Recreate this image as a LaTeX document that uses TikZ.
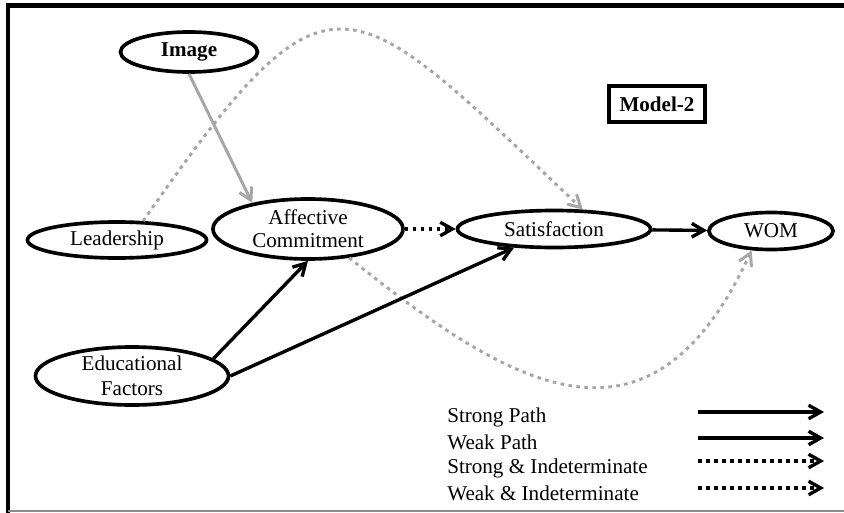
\documentclass[tikz,border=0pt]{standalone}
\usepackage{fontspec}
\setmainfont{Liberation Serif}
\usetikzlibrary{shapes.geometric,arrows.meta}

\tikzset{
  construct/.style={draw, ellipse, line width=2.6pt, inner sep=0pt, align=center,
    font=\fontsize{15}{17}\selectfont},
  path strong/.style={line width=2.4pt, -{Straight Barb[length=3mm,width=3.4mm,line width=2.4pt]}},
  path weak/.style={line width=2.1pt, black!35, -{Straight Barb[length=3mm,width=3.4mm,line width=2.1pt]}},
  dotline/.style={dash pattern=on 0.9mm off 1.1mm},
  legendtext/.style={anchor=west, inner sep=0pt, font=\fontsize{15}{17}\selectfont}
}

\begin{document}
\begin{tikzpicture}[x=0.025cm, y=-0.025cm]
  \useasboundingbox (0,0) rectangle (844,513);
  \draw [line width=3pt] (6,5.5) -- (844,5.5);
  \draw [line width=2.8pt] (8,4) -- (8,513);
  \draw [black!45, line width=1pt] (8,511) -- (844,511);

  \node [construct, minimum width=3.425cm, minimum height=1cm] (image) at (189,52) {\textbf{Image}};
  \node [construct, minimum width=4.475cm, minimum height=0.9cm] (leadership) at (117,240) {Leadership};
  \node [construct, minimum width=4.75cm, minimum height=1.5cm, font=\fontsize{15}{16.5}\selectfont] (affective) at (308,229) {Affective\\Commitment};
  \node [construct, minimum width=4.825cm, minimum height=0.925cm] (satisfaction) at (554,229) {Satisfaction};
  \node [construct, minimum width=3.1cm, minimum height=0.925cm] (wom) at (771,231) {WOM};
  \node [construct, minimum width=4.825cm, minimum height=1.45cm, font=\fontsize{15}{17.5}\selectfont] (educational) at (132,376) {Educational\\Factors};
  \node [draw, line width=2.4pt, minimum width=2.4cm, minimum height=0.9cm, inner sep=0pt,
    font=\fontsize{15}{17}\selectfont\bfseries] (model) at (657,104) {Model-2};

  \draw [path weak] (image.south) -- (affective.155);
  \draw [path weak, dotline] (leadership.36) .. controls (332,-50) and (345,-15) .. (satisfaction.34);
  \draw [path weak, dotline] (affective.325) .. controls (513,389) and (650,470) .. (wom.225);
  \draw [path strong, dotline] (affective) -- (satisfaction);
  \draw [path strong] (satisfaction) -- (wom);
  \draw [path strong] (educational.12) -- (affective.south);
  \draw [path strong] (educational.east) -- (satisfaction.205);

  \node [legendtext] (strongpath) at (447,417) {Strong Path};
  \node [legendtext] (weakpath) at (447,442) {Weak Path};
  \node [legendtext] (strongind) at (447,468) {Strong \& Indeterminate};
  \node [legendtext] (weakind) at (447,493) {Weak \& Indeterminate};
  \coordinate (s1) at (698,412);
  \coordinate (e1) at (824,412);
  \coordinate (s2) at (698,438);
  \coordinate (e2) at (824,438);
  \coordinate (s3) at (698,461);
  \coordinate (e3) at (824,461);
  \coordinate (s4) at (698,488);
  \coordinate (e4) at (824,488);
  \draw [path strong] (s1) -- (e1);
  \draw [path strong] (s2) -- (e2);
  \draw [path strong, dotline] (s3) -- (e3);
  \draw [path strong, dotline] (s4) -- (e4);
\end{tikzpicture}
\end{document}
